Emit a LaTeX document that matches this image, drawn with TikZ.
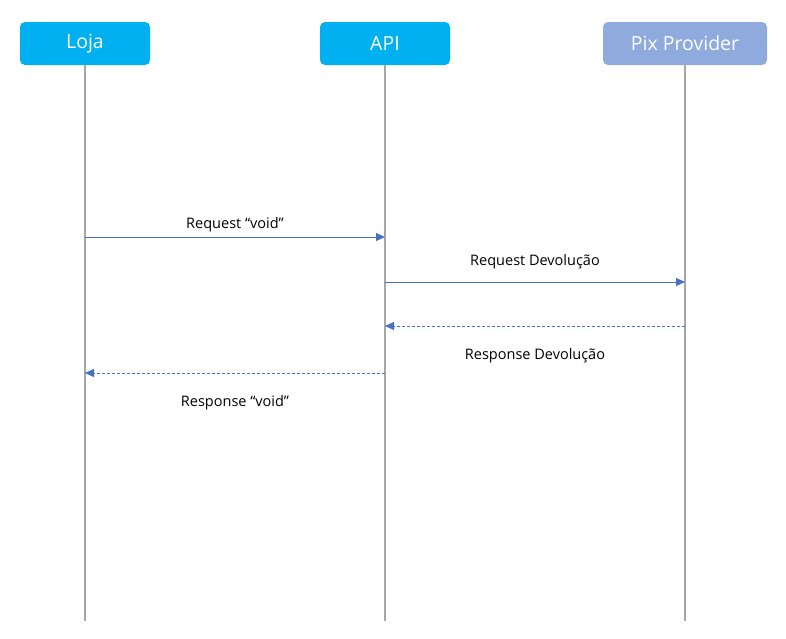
\documentclass[tikz,border=0pt]{standalone}
\usepackage{fontspec}
\setmainfont{Open Sans}
\usetikzlibrary{arrows.meta}
\definecolor{boxblue}{RGB}{0,176,240}
\definecolor{boxlilac}{RGB}{143,170,220}
\definecolor{msgblue}{RGB}{68,114,196}
\definecolor{lifegray}{RGB}{166,166,166}
\tikzset{
  actor/.style={rounded corners=5pt, minimum height=43pt, text=white,
    font=\fontsize{19.5}{22}\selectfont, inner sep=0pt},
  life/.style={lifegray, line width=1.3pt},
  msg/.style={msgblue, line width=0.9pt, -{Triangle[length=9pt,width=8pt]}},
  reply/.style={msg, dashed, dash pattern=on 3pt off 2pt},
  lbl/.style={font=\fontsize{14.5}{16}\selectfont, text=black}
}
\begin{document}
\begin{tikzpicture}[x=1pt,y=-1pt]
    \useasboundingbox (0,0) rectangle (786,638);
    \node[actor, fill=boxblue, minimum width=130pt] (loja) at (85,43.5) {Loja};
    \node[actor, fill=boxblue, minimum width=130pt] (api) at (385,43.5) {API};
    \node[actor, fill=boxlilac, minimum width=164pt] (pix) at (685,43.5) {Pix Provider};
    \coordinate (lojaE) at (85,621); \coordinate (apiE) at (385,621); \coordinate (pixE) at (685,621);
    \draw[life] (loja.south) -- (lojaE);
    \draw[life] (api.south) -- (apiE);
    \draw[life] (pix.south) -- (pixE);
    \coordinate (l1) at (85,237);  \coordinate (a1) at (385,237);
    \coordinate (a2) at (385,282); \coordinate (p2) at (685,282);
    \coordinate (p3) at (685,326); \coordinate (a3) at (385,326);
    \coordinate (a4) at (385,373); \coordinate (l4) at (85,373);
    \draw[msg] (l1) -- node[lbl, above=1pt] {Request “void”} (a1);
    \draw[msg] (a2) -- node[lbl, above=9pt] {Request Devolução} (p2);
    \draw[reply] (p3) -- node[lbl, below=19pt] {Response Devolução} (a3);
    \draw[reply] (a4) -- node[lbl, below=19pt] {Response “void”} (l4);
\end{tikzpicture}
\end{document}
